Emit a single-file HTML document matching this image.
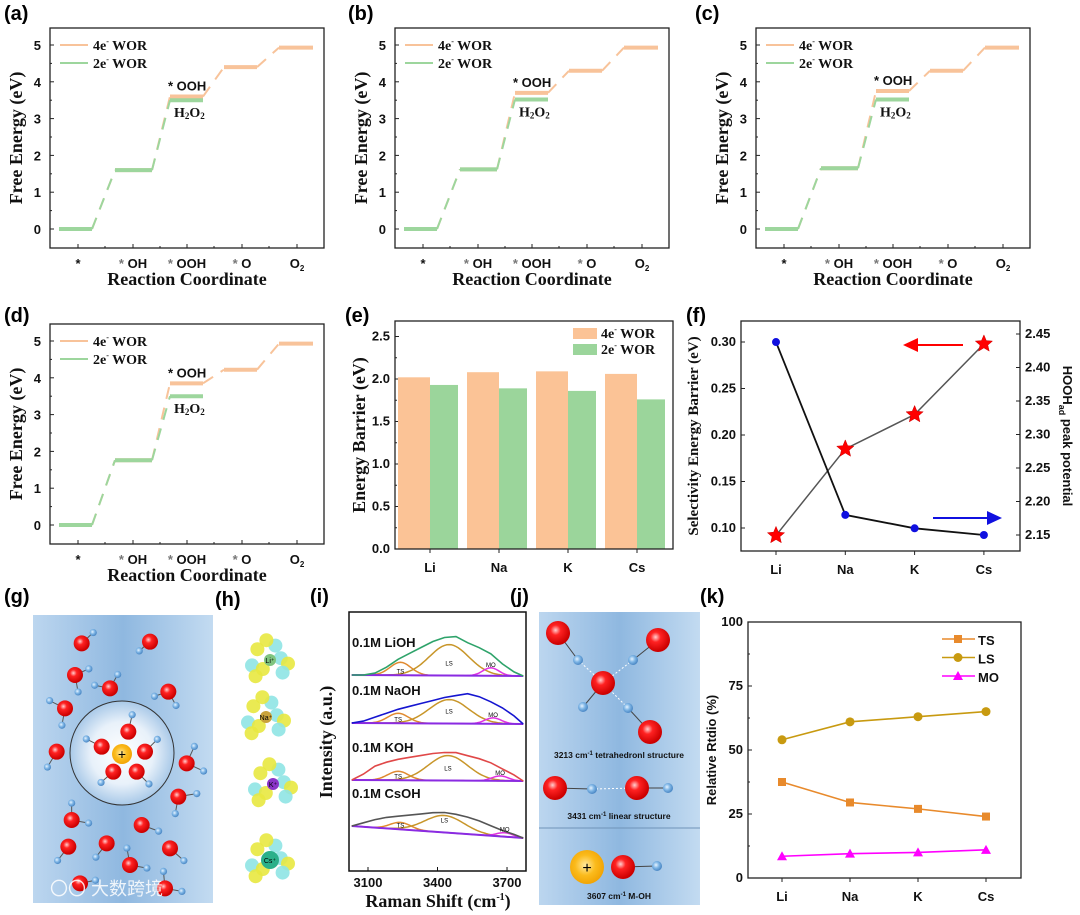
<!DOCTYPE html>
<html><head><meta charset="utf-8">
<style>
html,body{margin:0;padding:0;background:#fff;}
svg{display:block;}
.lab{font:bold 20px "Liberation Sans",sans-serif;fill:#000;}
.tk{font:bold 13px "Liberation Sans",sans-serif;fill:#111;}
.ser{font-family:"Liberation Serif",serif;font-weight:bold;fill:#111;}
</style></head>
<body>
<svg id="fig" width="1080" height="915" viewBox="0 0 1080 915" xmlns="http://www.w3.org/2000/svg">
<defs>
<radialGradient id="redg" cx="40%" cy="38%" r="60%"><stop offset="0" stop-color="#ffd0d0"/><stop offset="0.35" stop-color="#f22"/><stop offset="1" stop-color="#c00"/></radialGradient>
<radialGradient id="blug" cx="40%" cy="40%" r="60%"><stop offset="0" stop-color="#e6f3ff"/><stop offset="0.5" stop-color="#7fb6e6"/><stop offset="1" stop-color="#4a87c4"/></radialGradient>
<radialGradient id="ylg" cx="45%" cy="45%" r="60%"><stop offset="0" stop-color="#ffe9a0"/><stop offset="0.5" stop-color="#fbbb1c"/><stop offset="1" stop-color="#f0a000"/></radialGradient>
<radialGradient id="shell" cx="50%" cy="50%" r="50%"><stop offset="0" stop-color="#fff"/><stop offset="0.6" stop-color="#e8f1fa"/><stop offset="1" stop-color="#a9c9e8"/></radialGradient>
<linearGradient id="bgb" x1="0" x2="1" y1="0" y2="0"><stop offset="0" stop-color="#bcd6ef"/><stop offset="0.5" stop-color="#8fb8e0"/><stop offset="1" stop-color="#c3dbf1"/></linearGradient>
</defs>
<g id="root"></g>
</svg>
<script>
// ===== Data: energy diagrams (a-d) =====
const steps = ['*', '* OH', '* OOH', '* O', 'O2'];
const fourA = [0, 1.60, 3.60, 4.40, 4.93];
const twoA  = [0, 1.60, 3.50];
const fourB = [0, 1.62, 3.70, 4.30, 4.93];
const twoB  = [0, 1.62, 3.52];
const fourC = [0, 1.65, 3.75, 4.30, 4.93];
const twoC  = [0, 1.65, 3.52];
const fourD = [0, 1.76, 3.85, 4.22, 4.93];
const twoD  = [0, 1.76, 3.50];
const energyTicks = [0, 1, 2, 3, 4, 5];
// ===== Data: (e) bars =====
const cations = ['Li', 'Na', 'K', 'Cs'];
const barrier4e = [2.02, 2.08, 2.09, 2.06];
const barrier2e = [1.93, 1.89, 1.86, 1.76];
const barrierTicks = [0.0, 0.5, 1.0, 1.5, 2.0, 2.5];
// ===== Data: (f) =====
const selBarrier = [0.092, 0.185, 0.222, 0.298];
const peakPotential = [2.438, 2.18, 2.16, 2.15];
const selTicks = [0.10, 0.15, 0.20, 0.25, 0.30];
const potTicks = [2.15, 2.20, 2.25, 2.30, 2.35, 2.40, 2.45];
// ===== Data: (i) Raman =====
const ramanX = [3030,3080,3130,3180,3230,3280,3330,3380,3430,3480,3530,3580,3630,3680,3730,3770];
const ramanLi = [0,0,2,8,16,22,28,34,38,39,33,28,22,12,4,0];
const ramanNa = [0,2,6,10,14,17,20,23,26,28,30,27,22,16,8,0];
const ramanK  = [0,6,14,18,21,23,25,27,28,28,25,22,18,12,6,0];
const ramanCs = [0,4,8,11,13,15,17,19,20,19,17,14,10,6,3,0];
const ramanNames = ['0.1M LiOH','0.1M NaOH','0.1M KOH','0.1M CsOH'];
const tsCenter = [3240, 3230, 3230, 3240];
const tsHeight = [13, 10, 9, 7];
const lsCenter = [3450, 3450, 3445, 3430];
const lsHeight = [31, 24, 25, 17];
const moCenter = [3630, 3640, 3670, 3690];
const moHeight = [8, 6, 5, 4];
const ramanTicks = [3100, 3400, 3700];
// ===== Data: (k) =====
const ratioTS = [37.5, 29.5, 27, 24];
const ratioLS = [54, 61, 63, 65];
const ratioMO = [8.5, 9.5, 10, 11];
const ratioTicks = [0, 25, 50, 75, 100];

const NS = 'http://www.w3.org/2000/svg';
const root = document.getElementById('root');
function mk(tag, attrs, parent, txt) {
  const e = document.createElementNS(NS, tag);
  for (const k in attrs) e.setAttribute(k, attrs[k]);
  if (txt !== undefined) e.textContent = txt;
  (parent || root).appendChild(e);
  return e;
}
function label(x, y, t) {
  const e = mk('text', {x: x, y: y, class: 'lab'}, root, t);
  
  
}
const OR = '#f8c39a', GR = '#9dd69d';

// ===== Energy panel =====
function energyPanel(ox, oy, four, two, name) {
  const g = mk('g', {});
  
  
  const L = 50 + ox, R = 324 + ox, T = 28 + oy, B = 248 + oy;
  const y = v => oy + 229 - v * 36.8;
  const spans = [[59,92],[115,152],[170,203],[224,257],[279,313]];
  const tickX = [78,133,187,242,297];
  mk('rect', {x: L, y: T, width: R - L, height: B - T, fill: 'none', stroke: '#222', 'stroke-width': 1.3}, g);
  energyTicks.forEach(v => {
    mk('line', {x1: L, x2: L + 4, y1: y(v), y2: y(v), stroke: '#222'}, g);
    if (v < 5) mk('line', {x1: L, x2: L + 2, y1: y(v + 0.5), y2: y(v + 0.5), stroke: '#222'}, g);
    mk('text', {x: L - 9, y: y(v) + 5, class: 'tk', 'font-size': 14, 'text-anchor': 'end'}, g, v);
  });
  tickX.forEach((tx, i) => {
    mk('line', {x1: tx + ox, x2: tx + ox, y1: B, y2: B - 4, stroke: '#222'}, g);
    mk('line', {x1: tx + ox + 27, x2: tx + ox + 27, y1: B, y2: B - 2, stroke: '#222'}, g);
    const t = mk('text', {x: tx + ox, y: B + 20, class: 'tk', 'text-anchor': 'middle', 'font-size': 12}, g);
    if (i === 4) { t.textContent = 'O'; mk('tspan', {'font-size': 8, dy: 3}, t, '2'); }
    else if (i === 0) { t.textContent = '*'; t.setAttribute('fill', '#777'); }
    else { mk('tspan', {fill: '#777'}, t, '* '); mk('tspan', {}, t, steps[i].slice(2)); }
  });
  function path(vals, col, lw) {
    vals.forEach((v, i) => {
      const s = spans[i];
      mk('line', {x1: s[0] + ox, x2: s[1] + ox, y1: y(v), y2: y(v), stroke: col, 'stroke-width': lw}, g);
      if (i > 0) {
        const p = spans[i - 1];
        mk('line', {x1: p[1] + ox, y1: y(vals[i - 1]), x2: s[0] + ox, y2: y(v), stroke: col, 'stroke-width': 2, 'stroke-dasharray': '12,9'}, g);
      }
    });
  }
  path(four, OR, 4);
  path(two, GR, 4);
  mk('text', {x: 168 + ox, y: y(four[2]) - 6, class: 'tk', 'font-size': 12}, g, '* OOH');
  const h = mk('text', {x: 174 + ox, y: y(two[2]) + 17, class: 'ser', 'font-size': 14}, g, 'H');
  mk('tspan', {'font-size': 9, dy: 2}, h, '2'); mk('tspan', {dy: -2}, h, 'O'); mk('tspan', {'font-size': 9, dy: 2}, h, '2');
  [[OR, '4e'], [GR, '2e']].forEach((c, i) => {
    mk('line', {x1: 60 + ox, x2: 88 + ox, y1: 45 + oy + i * 18, y2: 45 + oy + i * 18, stroke: c[0], 'stroke-width': 2}, g);
    const t = mk('text', {x: 93 + ox, y: 50 + oy + i * 18, class: 'ser', 'font-size': 14}, g, c[1]);
    mk('tspan', {'font-size': 8, dy: -6}, t, '-'); mk('tspan', {dy: 6}, t, ' WOR');
  });
  mk('text', {x: 0, y: 0, class: 'ser', 'font-size': 18, 'text-anchor': 'middle', transform: `translate(${22 + ox},${138 + oy}) rotate(-90)`}, g, 'Free Energy (eV)');
  mk('text', {x: 187 + ox, y: B + 37, class: 'ser', 'font-size': 18, 'text-anchor': 'middle'}, g, 'Reaction Coordinate');
}
energyPanel(0, 0, fourA, twoA, 'panel-a-energy-diagram');
energyPanel(345, 0, fourB, twoB, 'panel-b-energy-diagram');
energyPanel(706, 0, fourC, twoC, 'panel-c-energy-diagram');
energyPanel(0, 296, fourD, twoD, 'panel-d-energy-diagram');
label(4, 20, '(a)'); label(348, 20, '(b)'); label(695, 20, '(c)'); label(4, 322, '(d)'); label(345, 322, '(e)'); label(686, 322, '(f)');

// ===== (e) bar chart =====
(function () {
  const g = mk('g', {});
  
  
  const L = 395, R = 673, T = 321, B = 549;
  const y = v => B - v * 85;
  const cx = i => 430 + i * 69;
  barrierTicks.forEach(v => {
    mk('line', {x1: L, x2: L + 4, y1: y(v), y2: y(v), stroke: '#222'}, g);
    if (v < 2.5) mk('line', {x1: L, x2: L + 2, y1: y(v + 0.25), y2: y(v + 0.25), stroke: '#222'}, g);
    mk('text', {x: L - 5, y: y(v) + 4, class: 'tk', 'font-size': 11, 'text-anchor': 'end'}, g, v.toFixed(1));
  });
  cations.forEach((c, i) => {
    const b1 = mk('rect', {x: cx(i) - 32, y: y(barrier4e[i]), width: 32, height: B - y(barrier4e[i]), fill: '#fbc396'}, g);
    
    
    const b2 = mk('rect', {x: cx(i), y: y(barrier2e[i]), width: 28, height: B - y(barrier2e[i]), fill: '#9bd59b'}, g);
    
    
    mk('line', {x1: cx(i), x2: cx(i), y1: B, y2: B + 4, stroke: '#222'}, g);
    mk('text', {x: cx(i), y: B + 23, class: 'tk', 'font-size': 15, 'text-anchor': 'middle'}, g, c);
  });
  mk('rect', {x: L, y: T, width: R - L, height: B - T, fill: 'none', stroke: '#222', 'stroke-width': 1.3}, g);
  [['#fbc396', '4e', 328], ['#9bd59b', '2e', 344]].forEach(c => {
    mk('rect', {x: 573, y: c[2], width: 24, height: 11, fill: c[0]}, g);
    const t = mk('text', {x: 601, y: c[2] + 10, class: 'ser', 'font-size': 14}, g, c[1]);
    mk('tspan', {'font-size': 8, dy: -6}, t, '-'); mk('tspan', {dy: 6}, t, ' WOR');
  });
  mk('text', {x: 0, y: 0, class: 'ser', 'font-size': 18, 'text-anchor': 'middle', transform: 'translate(365,435) rotate(-90)'}, g, 'Energy Barrier (eV)');
})();

// ===== (f) dual axis =====
function star(cx, cy, r, parent) {
  let p = '';
  for (let k = 0; k < 10; k++) {
    const a = -Math.PI / 2 + k * Math.PI / 5, rr = k % 2 ? r * 0.45 : r;
    p += (k ? 'L' : 'M') + (cx + rr * Math.cos(a)).toFixed(1) + ',' + (cy + rr * Math.sin(a)).toFixed(1);
  }
  return mk('path', {d: p + 'Z', fill: '#f00', stroke: '#c00', 'stroke-width': 0.5}, parent);
}
(function () {
  const g = mk('g', {});
  
  
  const L = 741, R = 1020, T = 321, B = 551;
  const yl = v => 342 + (0.30 - v) * 930;
  const yr = v => 334 + (2.45 - v) * 670;
  const cx = i => 776 + i * 69.3;
  mk('rect', {x: L, y: T, width: R - L, height: B - T, fill: 'none', stroke: '#222', 'stroke-width': 1.3}, g);
  selTicks.forEach(v => {
    mk('line', {x1: L, x2: L + 4, y1: yl(v), y2: yl(v), stroke: '#222'}, g);
    mk('text', {x: L - 5, y: yl(v) + 4, class: 'tk', 'font-size': 11, 'text-anchor': 'end'}, g, v.toFixed(2));
  });
  potTicks.forEach(v => {
    mk('line', {x1: R, x2: R - 4, y1: yr(v), y2: yr(v), stroke: '#222'}, g);
    mk('text', {x: R + 5, y: yr(v) + 4, class: 'tk', 'font-size': 11}, g, v.toFixed(2));
  });
  cations.forEach((c, i) => {
    mk('line', {x1: cx(i), x2: cx(i), y1: B, y2: B + 4, stroke: '#222'}, g);
    mk('text', {x: cx(i), y: B + 23, class: 'tk', 'font-size': 15, 'text-anchor': 'middle'}, g, c);
  });
  mk('polyline', {points: selBarrier.map((v, i) => cx(i) + ',' + yl(v)).join(' '), fill: 'none', stroke: '#555', 'stroke-width': 1.5}, g);
  mk('polyline', {points: peakPotential.map((v, i) => cx(i) + ',' + yr(v)).join(' '), fill: 'none', stroke: '#111', 'stroke-width': 1.8}, g);
  selBarrier.forEach((v, i) => {
    const s = star(cx(i), yl(v), 9, g);
    
    
  });
  peakPotential.forEach((v, i) => {
    const c = mk('circle', {cx: cx(i), cy: yr(v), r: 4, fill: '#1010e0'}, g);
    
    
  });
  mk('line', {x1: 963, x2: 915, y1: 345, y2: 345, stroke: '#f00', 'stroke-width': 2}, g);
  mk('path', {d: 'M903,345 L918,338 L918,352 Z', fill: '#f00'}, g);
  mk('line', {x1: 933, x2: 990, y1: 518, y2: 518, stroke: '#1010e0', 'stroke-width': 2}, g);
  mk('path', {d: 'M1002,518 L987,511 L987,525 Z', fill: '#1010e0'}, g);
  mk('text', {x: 0, y: 0, class: 'ser', 'font-size': 15, 'text-anchor': 'middle', transform: 'translate(698,436) rotate(-90)'}, g, 'Selectivity Energy Barrier (eV)');
  const rt = mk('text', {x: 0, y: 0, class: 'tk', 'font-size': 15, 'text-anchor': 'middle', transform: 'translate(1063,436) rotate(90)'}, g, 'HOOH');
  mk('tspan', {'font-size': 9, dy: 4}, rt, 'ad'); mk('tspan', {dy: -4}, rt, ' peak potential');
})();

// ===== (g) solvation scheme =====
label(4, 603, '(g)'); label(215, 606, '(h)'); label(310, 603, '(i)'); label(510, 603, '(j)'); label(700, 603, '(k)');
function water(g, x, y, r, hs) {
  hs.forEach(h => {
    mk('line', {x1: x, y1: y, x2: x + h[0], y2: y + h[1], stroke: '#555', 'stroke-width': 1}, g);
    mk('circle', {cx: x + h[0], cy: y + h[1], r: r * 0.45, fill: 'url(#blug)'}, g);
  });
  mk('circle', {cx: x, cy: y, r: r, fill: 'url(#redg)'}, g);
}
(function () {
  const g = mk('g', {});
  
  
  mk('rect', {x: 33, y: 615, width: 180, height: 288, fill: 'url(#bgb)'}, g);
  mk('circle', {cx: 122, cy: 753, r: 52, fill: 'url(#shell)', stroke: '#333', 'stroke-width': 1}, g);
  const os = [[245,190],[450,185],[225,285],[330,325],[505,335],[195,385],[170,515],[560,550],[535,650],[215,720],[425,735],[205,800],[320,790],[510,805],[390,855],[240,910],[495,925]];
  const hset = [[[15,-14]],[[-14,12]],[[18,-8],[4,22]],[[-20,-4],[10,-18]],[[-18,6],[10,18]],[[-20,-10],[-4,22]],[[-12,20]],[[10,-22],[22,10]],[[24,-4],[-4,22]],[[22,4],[0,-22]],[[22,8]],[[-14,18]],[[-14,18]],[[18,16]],[[-4,-22],[22,4]],[[20,-4]],[[22,4],[-2,-22]]];
  os.forEach((o, i) => water(g, o[0] / 3, 580 + o[1] / 3, 8, hset[i % hset.length].map(h => [h[0] / 1.3, h[1] / 1.3])));
  const inner = [[385,455,[[5,-22]]],[305,500,[[-20,-10]]],[435,515,[[16,-16]]],[340,575,[[-16,14]]],[410,575,[[16,16]]]];
  inner.forEach(o => water(g, o[0] / 3, 580 + o[1] / 3, 8, o[2].map(h => [h[0] / 1.3, h[1] / 1.3])));
  mk('circle', {cx: 122, cy: 754, r: 10, fill: 'url(#ylg)'}, g);
  mk('text', {x: 122, y: 759, 'text-anchor': 'middle', 'font-size': 14, 'font-family': 'Liberation Sans,sans-serif'}, g, '+');
  mk('text', {x: 50, y: 895, 'font-size': 18, fill: '#fff', opacity: 0.85, 'font-family': '"Liberation Sans","Noto Sans CJK SC",sans-serif'}, g, '〇〇 大数跨境');
})();

// ===== (h) charge density blobs =====
(function () {
  const g = mk('g', {});
  
  
  const centers = [[270, 660, '#7fc47f', 'Li⁺'], [266, 717, '#c9a23a', 'Na⁺'], [273, 784, '#8a35c8', 'K⁺'], [270, 860, '#2bb08a', 'Cs⁺']];
  const offs = [[-14,-12],[-20,6],[-8,10],[12,-2],[20,4],[6,-16],[-4,-22],[14,14],[-16,18]];
  centers.forEach((c, ci) => {
    offs.forEach((o, k) => {
      mk('circle', {cx: c[0] + o[0] * 0.9, cy: c[1] + o[1] * 0.9, r: 7, fill: k % 2 ? '#8fe4e4' : '#e8e840', opacity: 0.9}, g);
    });
    mk('circle', {cx: c[0], cy: c[1], r: ci === 3 ? 9 : 6, fill: c[2]}, g);
    mk('text', {x: c[0], y: c[1] + 3, 'font-size': 7, 'text-anchor': 'middle', 'font-family': 'Liberation Sans,sans-serif'}, g, c[3]);
  });
})();

// ===== (i) Raman =====
(function () {
  const g = mk('g', {});
  
  
  const L = 349, R = 526, T = 612, B = 871;
  const x = v => 368 + (v - 3100) * 0.2317;
  const bases = [[675, 676], [723, 724], [780, 781], [826, 838]];
  const cols = ['#2ea36a', '#1515d0', '#e04848', '#555'];
  const sets = [ramanLi, ramanNa, ramanK, ramanCs];
  mk('rect', {x: L, y: T, width: R - L, height: B - T, fill: '#fff', stroke: '#111', 'stroke-width': 1.5}, g);
  const clipId = 'rclip';
  const cp = mk('clipPath', {id: clipId}, g);
  mk('rect', {x: L, y: T, width: R - L, height: B - T}, cp);
  const cg = mk('g', {'clip-path': 'url(#' + clipId + ')'}, g);
  const bAt = (i, v) => bases[i][0] + (bases[i][1] - bases[i][0]) * (v - 3030) / 740;
  function gauss(i, c, h, s, col) {
    let p = '';
    for (let v = 3030; v <= 3770; v += 10) {
      const yy = bAt(i, v) - h * Math.exp(-((v - c) * (v - c)) / (2 * s * s));
      p += (p ? 'L' : 'M') + x(v).toFixed(1) + ',' + yy.toFixed(1);
    }
    mk('path', {d: p, fill: 'none', stroke: col, 'stroke-width': 1.5}, cg);
  }
  sets.forEach((s, i) => {
    gauss(i, tsCenter[i], tsHeight[i], 45, '#e08a30');
    gauss(i, lsCenter[i], lsHeight[i], 85, '#c8962a');
    gauss(i, moCenter[i], moHeight[i], 35, '#e030e0');
    mk('line', {x1: x(3030), y1: bAt(i, 3030), x2: x(3770), y2: bAt(i, 3770), stroke: '#8a2be2', 'stroke-width': 2}, cg);
    const pl = mk('polyline', {points: s.map((v, k) => x(ramanX[k]).toFixed(1) + ',' + (bAt(i, ramanX[k]) - v).toFixed(1)).join(' '), fill: 'none', stroke: cols[i], 'stroke-width': 1.6}, cg);
    
    
    mk('text', {x: 352, y: bases[i][0] - 28, class: 'tk', 'font-size': 10}, g, ramanNames[i]);
    mk('text', {x: x(tsCenter[i]), y: bAt(i, tsCenter[i]) - 2, 'font-size': 6, 'text-anchor': 'middle', 'font-family': 'Liberation Sans,sans-serif'}, g, 'TS');
    mk('text', {x: x(lsCenter[i]), y: bAt(i, lsCenter[i]) - 10, 'font-size': 6, 'text-anchor': 'middle', 'font-family': 'Liberation Sans,sans-serif'}, g, 'LS');
    mk('text', {x: x(moCenter[i]), y: bAt(i, moCenter[i]) - moHeight[i] - 1, 'font-size': 6, 'text-anchor': 'middle', 'font-family': 'Liberation Sans,sans-serif'}, g, 'MO');
  });
  ramanTicks.forEach(v => {
    mk('line', {x1: x(v), x2: x(v), y1: B, y2: B - 4, stroke: '#111'}, g);
    mk('text', {x: x(v), y: B + 16, class: 'tk', 'font-size': 11, 'text-anchor': 'middle'}, g, v);
  });
  mk('text', {x: 0, y: 0, class: 'ser', 'font-size': 18, 'text-anchor': 'middle', transform: 'translate(332,742) rotate(-90)'}, g, 'Intensity (a.u.)');
  const xt = mk('text', {x: 438, y: 907, class: 'ser', 'font-size': 18, 'text-anchor': 'middle'}, g, 'Raman Shift (cm');
  mk('tspan', {'font-size': 10, dy: -7}, xt, '-1'); mk('tspan', {dy: 7}, xt, ')');
})();

// ===== (j) structures =====
(function () {
  const g = mk('g', {});
  
  
  mk('rect', {x: 539, y: 612, width: 161, height: 293, fill: 'url(#bgb)'}, g);
  mk('line', {x1: 539, x2: 700, y1: 828, y2: 828, stroke: '#6f93b8', 'stroke-width': 1}, g);
  const dl = (a, b, c, d) => mk('line', {x1: a, y1: b, x2: c, y2: d, stroke: '#fff', 'stroke-width': 1, 'stroke-dasharray': '2,2'}, g);
  const sl = (a, b, c, d) => mk('line', {x1: a, y1: b, x2: c, y2: d, stroke: '#444', 'stroke-width': 1}, g);
  sl(558,633,578,660); sl(658,640,633,660); sl(603,683,583,707); sl(650,732,628,708);
  dl(578,660,603,683); dl(633,660,603,683); dl(628,708,603,683);
  [[558,633],[658,640],[603,683],[650,732]].forEach(p => mk('circle', {cx: p[0], cy: p[1], r: 12, fill: 'url(#redg)'}, g));
  [[578,660],[633,660],[583,707],[628,708]].forEach(p => mk('circle', {cx: p[0], cy: p[1], r: 5, fill: 'url(#blug)'}, g));
  const cap = (y, a, b) => { const t = mk('text', {x: 619, y: y, 'text-anchor': 'middle', 'font-size': 8.5, 'font-weight': 'bold', 'font-family': 'Liberation Sans,sans-serif', fill: '#111'}, g, a); mk('tspan', {'font-size': 6, dy: -3}, t, '-1'); mk('tspan', {dy: 3}, t, b); };
  cap(758, '3213 cm', ' tetrahedronl structure');
  sl(555,788,592,789); dl(592,789,637,788); sl(637,788,668,788);
  mk('circle', {cx: 555, cy: 788, r: 12, fill: 'url(#redg)'}, g); mk('circle', {cx: 637, cy: 788, r: 12, fill: 'url(#redg)'}, g);
  mk('circle', {cx: 592, cy: 789, r: 5, fill: 'url(#blug)'}, g); mk('circle', {cx: 668, cy: 788, r: 5, fill: 'url(#blug)'}, g);
  cap(819, '3431 cm', ' linear structure');
  sl(623,867,657,866);
  mk('circle', {cx: 587, cy: 867, r: 17, fill: 'url(#ylg)'}, g);
  mk('text', {x: 587, y: 873, 'text-anchor': 'middle', 'font-size': 16, 'font-family': 'Liberation Sans,sans-serif'}, g, '+');
  mk('circle', {cx: 623, cy: 867, r: 12, fill: 'url(#redg)'}, g);
  mk('circle', {cx: 657, cy: 866, r: 5, fill: 'url(#blug)'}, g);
  cap(899, '3607 cm', ' M-OH');
})();

// ===== (k) line chart =====
(function () {
  const g = mk('g', {});
  
  
  const L = 748, R = 1021, T = 622, B = 878;
  const y = v => B - v * 2.56;
  const cx = i => 782 + i * 68;
  mk('rect', {x: L, y: T, width: R - L, height: B - T, fill: 'none', stroke: '#222', 'stroke-width': 1.3}, g);
  ratioTicks.forEach(v => {
    mk('line', {x1: L, x2: L + 4, y1: y(v), y2: y(v), stroke: '#222'}, g);
    if (v < 100) mk('line', {x1: L, x2: L + 2, y1: y(v + 12.5), y2: y(v + 12.5), stroke: '#222'}, g);
    mk('text', {x: L - 5, y: y(v) + 4, class: 'tk', 'font-size': 11, 'text-anchor': 'end'}, g, v);
  });
  cations.forEach((c, i) => {
    mk('line', {x1: cx(i), x2: cx(i), y1: B, y2: B + 4, stroke: '#222'}, g);
    mk('text', {x: cx(i), y: B + 23, class: 'tk', 'font-size': 15, 'text-anchor': 'middle'}, g, c);
  });
  const series = [[ratioTS, '#e88a2c', 'sq', 'TS'], [ratioLS, '#c89a10', 'ci', 'LS'], [ratioMO, '#ff00ff', 'tr', 'MO']];
  function marker(t, px, py, col) {
    if (t === 'sq') return mk('rect', {x: px - 4, y: py - 4, width: 8, height: 8, fill: col}, g);
    if (t === 'ci') return mk('circle', {cx: px, cy: py, r: 4.5, fill: col}, g);
    return mk('path', {d: `M${px},${py - 5} L${px + 5},${py + 4} L${px - 5},${py + 4} Z`, fill: col}, g);
  }
  series.forEach((s, si) => {
    mk('polyline', {points: s[0].map((v, i) => cx(i) + ',' + y(v)).join(' '), fill: 'none', stroke: s[1], 'stroke-width': 1.6}, g);
    s[0].forEach((v, i) => {
      const m = marker(s[2], cx(i), y(v), s[1]);
      
      
    });
    const ly = 639 + si * 18.5;
    mk('line', {x1: 942, x2: 975, y1: ly, y2: ly, stroke: s[1], 'stroke-width': 1.6}, g);
    marker(s[2], 958, ly, s[1]);
    mk('text', {x: 978, y: ly + 6, class: 'tk', 'font-size': 15}, g, s[3]);
  });
  mk('text', {x: 0, y: 0, class: 'tk', 'font-size': 12, 'text-anchor': 'middle', transform: 'translate(716,750) rotate(-90)'}, g, 'Relative Rtdio (%)');
})();
</script>
</body></html>
